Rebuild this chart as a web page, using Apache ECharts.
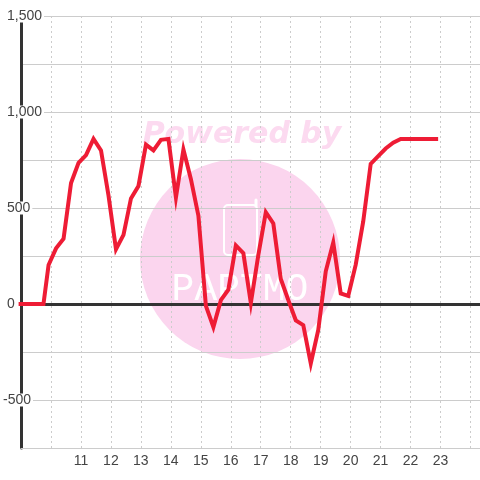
<!DOCTYPE html>
<html>
<head>
<meta charset="utf-8">
<style>html,body{margin:0;padding:0;background:#fff}#c{width:480px;height:480px}</style>
<script src="https://cdn.jsdelivr.net/npm/echarts@6/dist/echarts.min.js"></script>
</head>
<body>
<div id="c"></div>
<script>
const hours = [8.92,9.17,9.42,9.67,9.75,9.92,10.17,10.42,10.67,10.92,11.17,11.42,11.67,11.92,12.17,12.42,12.67,12.92,13.17,13.42,13.67,13.92,14.17,14.42,14.67,14.92,15.17,15.42,15.67,15.92,16.17,16.42,16.67,16.92,17.17,17.42,17.67,17.92,18.17,18.42,18.67,18.92,19.17,19.42,19.67,19.92,20.17,20.42,20.67,20.92,21.17,21.42,21.67,21.92,22.17,22.42,22.67,22.92];
const values = [0,0,0,0,0,203,290,340,630,735,775,860,800,565,285,360,550,615,830,800,855,860,555,805,650,460,-10,-120,20,75,305,265,5,255,478,420,130,20,-85,-110,-310,-135,170,320,55,42,205,430,730,770,810,840,860,860,860,860,860,860];
const yLabelValues = [-500,0,500,1000,1500];
const watermarkTop = 'Powered by';
const watermarkBottom = 'PAPTMO';

const chart = echarts.init(document.getElementById('c'), null, {renderer:'canvas'});
const FONT = '"Liberation Sans", Arial, sans-serif';
const lbl = {fontFamily:FONT,fontSize:14,color:'#444',backgroundColor:'#fff',height:13,lineHeight:13};
chart.setOption({
  animation:false,
  backgroundColor:'#fff',
  graphic:[
    {type:'circle',silent:true,z:-1,shape:{cx:240,cy:259,r:100},style:{fill:'#fbd5ee'}},
    {type:'text',silent:true,z:-1,x:242,y:135,style:{text:watermarkTop,fill:'#fcdaf0',font:'italic bold 30px "DejaVu Sans"',align:'center',verticalAlign:'middle'}},
    {type:'rect',silent:true,z:-1,shape:{x:224,y:205,width:33,height:50,r:4},style:{fill:null,stroke:'#fff',lineWidth:2}},
    {type:'line',silent:true,z:-1,shape:{x1:256,y1:200,x2:256,y2:206},style:{stroke:'#fff',lineWidth:3,lineCap:'round'}},
    {type:'text',silent:true,z:-1,x:240,y:290,style:{text:watermarkBottom,fill:'#fff',font:'38px "Liberation Mono"',align:'center',verticalAlign:'middle'}}
  ],
  grid:{left:20.5,right:0,top:16,bottom:32,containLabel:false},
  xAxis:[{
    type:'value',min:9,max:24.317,interval:1,
    axisLine:{onZero:false,lineStyle:{color:'#ccc',width:1}},
    axisTick:{show:false},
    axisLabel:{margin:6,fontFamily:FONT,fontSize:14,color:'#444',showMinLabel:false,showMaxLabel:false,
      customValues:[10,11,12,13,14,15,16,17,18,19,20,21,22,23,24]},
    splitLine:{show:true,lineStyle:{color:'#ccc',width:1,type:[2,3]}}
  },{
    type:'value',position:'top',min:9,max:24.317,interval:1,
    axisLine:{show:true,onZero:true,lineStyle:{color:'#333',width:3}},
    axisTick:{show:false},axisLabel:{show:false},splitLine:{show:false}
  }],
  yAxis:{
    type:'value',min:-750,max:1500,interval:250,
    axisLine:{show:true,onZero:false,lineStyle:{color:'#333',width:3}},
    axisTick:{show:false},
    axisLabel:{
      margin:18,align:'left',showMinLabel:false,
      formatter:v=>{
        if(!yLabelValues.includes(v)) return '';
        const s=v.toLocaleString('en-US');
        return v<0?'{n|'+s+'}':'{p|'+s+'}';
      },
      rich:{n:Object.assign({},lbl,{padding:[0,2,0,0]}),p:Object.assign({},lbl,{padding:[0,2,0,4]})}
    },
    splitLine:{show:true,lineStyle:{color:'#ccc',width:1}}
  },
  series:[{
    type:'line',xAxisIndex:0,showSymbol:false,clip:false,z:5,
    data:hours.map((h,i)=>[h,values[i]]),
    lineStyle:{color:'#ee1c35',width:4,cap:'butt',join:'miter'}
  }]
});
</script>
</body>
</html>
